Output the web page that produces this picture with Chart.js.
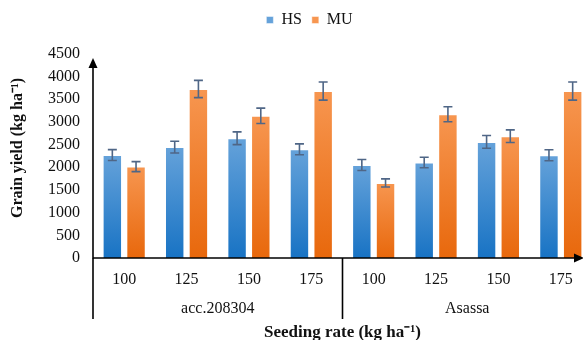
<!DOCTYPE html>
<html>
<head>
<meta charset="utf-8">
<script src="https://cdn.jsdelivr.net/npm/chart.js@4/dist/chart.umd.min.js"></script>
<style>
  html, body { margin: 0; padding: 0; background: #fff; overflow: hidden; }
  #wrap { width: 600px; height: 340px; }
</style>
</head>
<body>
<div id="wrap"><canvas id="c" width="600" height="340"></canvas></div>
<script>
// ---- data ----
const rates = ['100', '125', '150', '175', '100', '125', '150', '175'];
const groups = ['acc.208304', 'Asassa'];
const seriesNames = ['HS', 'MU'];
const HS = [2270, 2445, 2640, 2395, 2050, 2105, 2560, 2265];
const MU = [2015, 3725, 3135, 3680, 1655, 3170, 2685, 3680];
const HS_err = [120, 130, 140, 120, 120, 115, 140, 120];
const MU_err = [110, 190, 170, 200, 90, 165, 140, 200];
const yTicks = [0, 500, 1000, 1500, 2000, 2500, 3000, 3500, 4000, 4500];

const SERIF = "'Liberation Serif', 'Times New Roman', serif";

function gradFill(top, bottom, solid) {
  return function (ctx) {
    if (ctx.type !== 'data') return solid;
    const chart = ctx.chart;
    const area = chart.chartArea;
    if (!area) return solid;
    const ys = chart.scales.y;
    const t = ys.getPixelForValue(ctx.raw);
    const g = chart.ctx.createLinearGradient(0, t, 0, area.bottom);
    g.addColorStop(0, top);
    g.addColorStop(1, bottom);
    return g;
  };
}

const errorBars = {
  id: 'errorBars',
  afterDatasetsDraw(chart) {
    const c = chart.ctx;
    const ys = chart.scales.y;
    const errs = [HS_err, MU_err];
    c.save();
    c.strokeStyle = '#4f6686';
    c.lineWidth = 1.6;
    chart.data.datasets.forEach((ds, di) => {
      const meta = chart.getDatasetMeta(di);
      meta.data.forEach((bar, i) => {
        const v = ds.data[i], e = errs[di][i];
        const yt = ys.getPixelForValue(v + e);
        const yb = ys.getPixelForValue(v - e);
        const x = bar.x;
        c.beginPath();
        c.moveTo(x, yt); c.lineTo(x, yb);
        c.moveTo(x - 4.5, yt); c.lineTo(x + 4.5, yt);
        c.moveTo(x - 4.5, yb); c.lineTo(x + 4.5, yb);
        c.stroke();
      });
    });
    c.restore();
  }
};

const axesDeco = {
  id: 'axesDeco',
  afterDraw(chart) {
    const c = chart.ctx;
    const a = chart.chartArea;
    const xs = chart.scales.x;
    const ys = chart.scales.y;
    c.save();
    c.strokeStyle = '#000';
    c.fillStyle = '#000';
    c.lineWidth = 1.6;
    // y axis with arrow
    const topTip = ys.getPixelForValue(yTicks[yTicks.length - 1]) + 4;
    c.beginPath();
    c.moveTo(a.left, a.bottom + 0.5);
    c.lineTo(a.left, topTip + 6);
    c.stroke();
    c.beginPath();
    c.moveTo(a.left, topTip);
    c.lineTo(a.left - 4.5, topTip + 10);
    c.lineTo(a.left + 4.5, topTip + 10);
    c.closePath();
    c.fill();
    // x axis with arrow
    const rightTip = 584;
    c.beginPath();
    c.moveTo(a.left, a.bottom);
    c.lineTo(rightTip - 6, a.bottom);
    c.stroke();
    c.beginPath();
    c.moveTo(rightTip, a.bottom);
    c.lineTo(rightTip - 10, a.bottom - 4.5);
    c.lineTo(rightTip - 10, a.bottom + 4.5);
    c.closePath();
    c.fill();
    // group dividers
    const mid = (xs.getPixelForValue(3) + xs.getPixelForValue(4)) / 2;
    const bottomY = 319;
    [a.left, mid, a.right].forEach(x => {
      c.beginPath();
      c.moveTo(x, a.bottom);
      c.lineTo(x, bottomY);
      c.stroke();
    });
    c.restore();
  }
};

new Chart(document.getElementById('c'), {
  type: 'bar',
  data: {
    labels: rates,
    datasets: [
      {
        label: seriesNames[0],
        data: HS,
        backgroundColor: gradFill('#65a2da', '#1873c4', '#3f8ad2'),
        borderColor: 'rgba(255,255,255,0.45)',
        borderWidth: (ctx) => ctx.type === 'data' ? 1 : 0,
        categoryPercentage: 0.76,
        barPercentage: 0.82
      },
      {
        label: seriesNames[1],
        data: MU,
        backgroundColor: gradFill('#f79650', '#e8680c', '#f5821f'),
        borderColor: 'rgba(255,255,255,0.45)',
        borderWidth: (ctx) => ctx.type === 'data' ? 1 : 0,
        categoryPercentage: 0.76,
        barPercentage: 0.82
      }
    ]
  },
  options: {
    responsive: false,
    animation: false,
    layout: { padding: { left: 27, right: 8, top: 2, bottom: 0 } },
    plugins: {
      legend: {
        position: 'top',
        align: 'center',
        labels: {
          font: { family: SERIF, size: 16 },
          color: '#111',
          boxWidth: 7,
          boxHeight: 7,
          padding: 10
        }
      },
      tooltip: { enabled: false }
    },
    scales: {
      x: {
        type: 'category',
        offset: true,
        afterFit: (s) => { s.height = 31; },
        grid: { display: false, drawTicks: false },
        border: { display: false },
        ticks: {
          font: { family: SERIF, size: 16 },
          color: '#111',
          padding: 12,
          maxRotation: 0,
          autoSkip: false
        }
      },
      x2: {
        type: 'category',
        labels: groups,
        offset: true,
        position: 'bottom',
        afterFit: (s) => { s.height = 51; },
        grid: { display: false, drawTicks: false },
        border: { display: false },
        ticks: {
          font: { family: SERIF, size: 16 },
          color: '#111',
          padding: 10,
          maxRotation: 0,
          autoSkip: false
        },
        title: {
          display: true,
          text: 'Seeding rate (kg ha\u207B\u00B9)',
          font: { family: SERIF, size: 17, weight: 'bold' },
          color: '#111',
          padding: { top: 0, bottom: -3 }
        }
      },
      y: {
        min: 0,
        max: 4850,
        afterBuildTicks: (s) => { s.ticks = yTicks.map(v => ({ value: v })); },
        afterFit: (s) => { s.width = 66; },
        grid: { display: false, drawTicks: false },
        border: { display: false },
        ticks: {
          font: { family: SERIF, size: 16 },
          color: '#111',
          padding: 13,
          autoSkip: false,
          callback: (v) => String(v)
        },
        title: {
          display: true,
          text: 'Grain yield (kg ha\u207B\u00B9)',
          font: { family: SERIF, size: 16, weight: 'bold' },
          color: '#111',
          padding: { top: -18.6, bottom: 0 }
        }
      }
    }
  },
  plugins: [errorBars, axesDeco]
});
</script>
</body>
</html>
